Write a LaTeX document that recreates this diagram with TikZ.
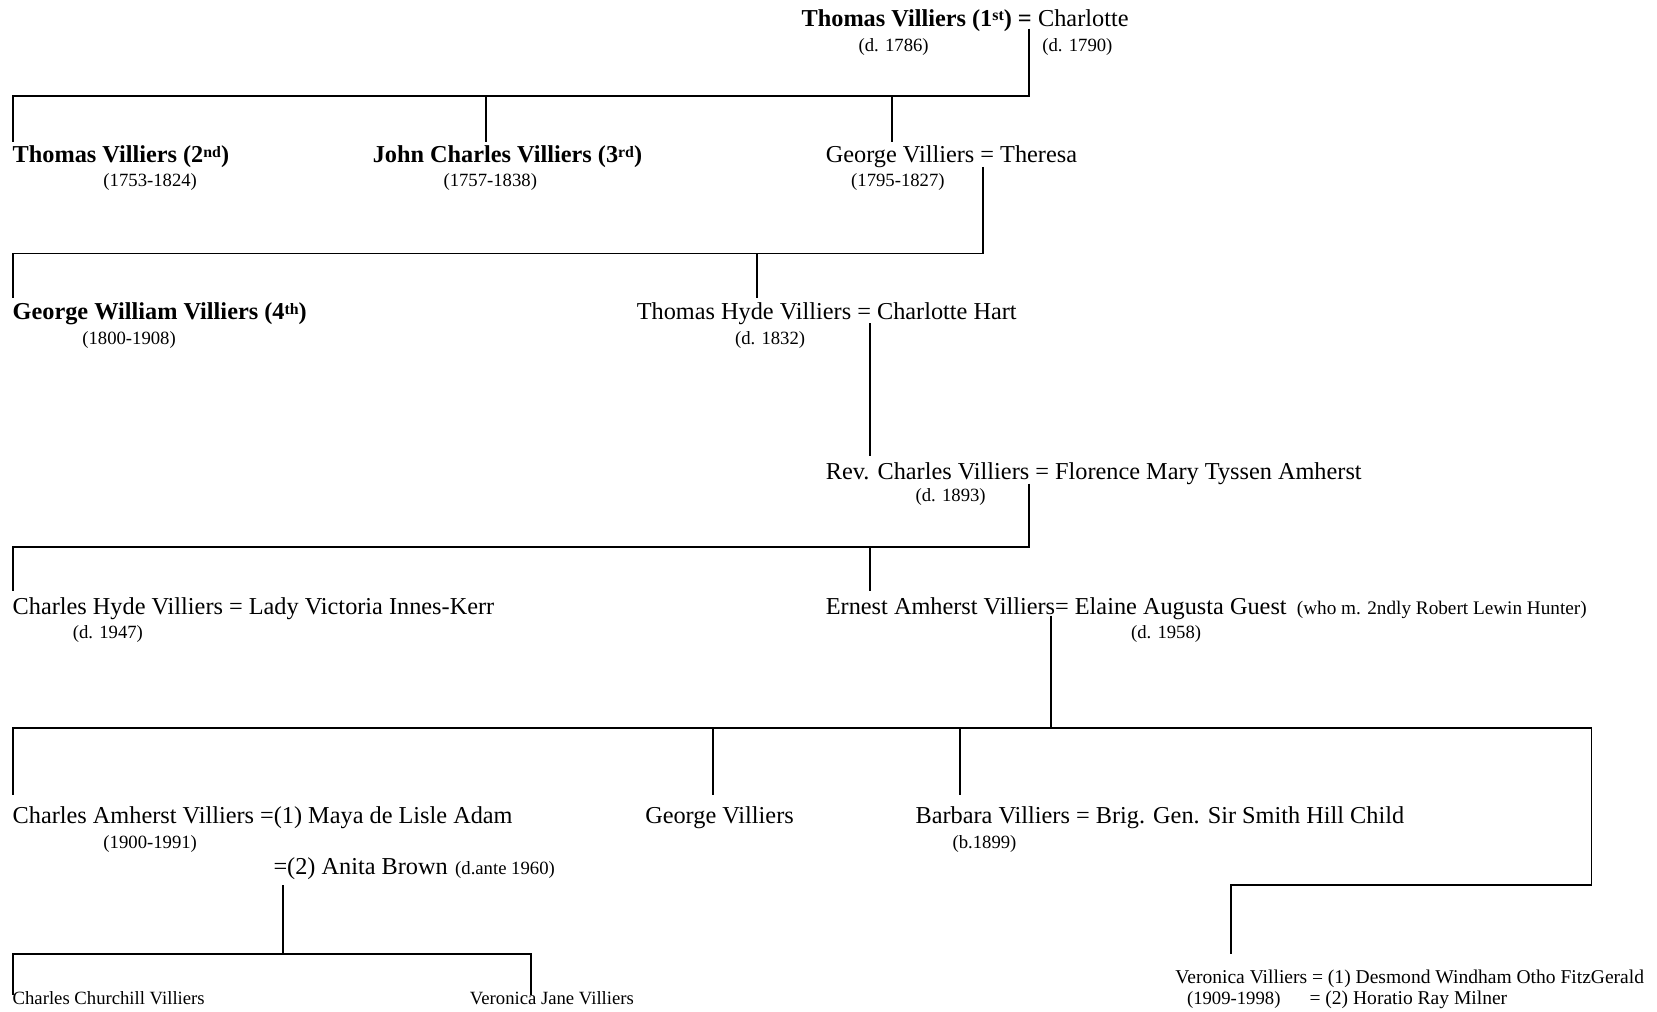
\documentclass[tikz,border=0pt]{standalone}
\usepackage{fontspec}
\setmainfont{Liberation Serif}
\newcommand\supx[1]{\raisebox{0.5ex}{\fontsize{7.5}{8}\selectfont #1}}
\begin{document}
\begin{tikzpicture}[x=0.5pt,y=-0.5pt,
  txt/.style={anchor=base west,inner sep=0pt,outer sep=0pt,font=\fontsize{11.5}{13}\selectfont},
  bld/.style={txt,font=\fontsize{11.5}{13}\selectfont\bfseries},
  sml/.style={anchor=base west,inner sep=0pt,outer sep=0pt,font=\fontsize{8.85}{10}\selectfont},
  smlw/.style={sml,font=\fontsize{9.25}{10}\selectfont},
  link/.style={draw=black,line width=0.9pt}]
\useasboundingbox (0,0) rectangle (1569,958);
% Row 0
\node[bld,anchor=base east] (tv1) at (977,25) {Thomas Villiers (1\supx{st}) =};
\node[txt] (ch1) at (983,25) {Charlotte};
\node[sml] (tv1d) at (813,49) {(d. 1786)};
\node[sml] (ch1d) at (987,49) {(d. 1790)};
% Row 1
\node[bld] (tv2) at (12,154) {Thomas Villiers (2\supx{nd})};
\node[sml] (tv2d) at (98,177) {(1753-1824)};
\node[bld] (jcv) at (353,154) {John Charles Villiers (3\supx{rd})};
\node[sml] (jcvd) at (420,177) {(1757-1838)};
\node[txt] (gv) at (782,154) {George Villiers = Theresa};
\node[sml] (gvd) at (806,177) {(1795-1827)};
% Row 2
\node[bld] (gwv) at (12,303) {George William Villiers (4\supx{th})};
\node[sml] (gwvd) at (78,326) {(1800-1908)};
\node[txt] (thv) at (603,303) {Thomas Hyde Villiers = Charlotte Hart};
\node[sml] (thvd) at (696,326) {(d. 1832)};
% Row 3
\node[txt] (rcv) at (782,454) {Rev. Charles Villiers = Florence Mary Tyssen Amherst};
\node[sml] (rcvd) at (867,475) {(d. 1893)};
% Row 4
\node[txt] (chv) at (12,582) {Charles Hyde Villiers = Lady Victoria Innes-Kerr};
\node[sml] (chvd) at (69,605) {(d. 1947)};
\node[txt] (eav) at (782,582) {Ernest Amherst Villiers= Elaine Augusta Guest};
\node[sml,font=\fontsize{9.1}{10}\selectfont] (eavn) at (1228,582) {(who m. 2ndly Robert Lewin Hunter)};
\node[sml] (eavd) at (1071,605) {(d. 1958)};
% Row 5
\node[txt] (cav) at (12,780) {Charles Amherst Villiers =(1) Maya de Lisle Adam};
\node[sml] (cavd) at (98,803) {(1900-1991)};
\node[txt] (cav2) at (259,828) {=(2) Anita Brown};
\node[sml] (cav2d) at (431,828) {(d.ante 1960)};
\node[txt] (gv2) at (611,780) {George Villiers};
\node[txt] (bv) at (867,780) {Barbara Villiers = Brig. Gen. Sir Smith Hill Child};
\node[sml] (bvd) at (902,803) {(b.1899)};
% Row 6
\node[sml] (ccv) at (12,951) {Charles Churchill Villiers};
\node[sml] (vjv) at (445,951) {Veronica Jane Villiers};
\node[smlw] (vv) at (1113,931) {Veronica Villiers = (1) Desmond Windham Otho FitzGerald};
\node[sml] (vvd) at (1124,951) {(1909-1998)};
\node[smlw] (vv2) at (1240,951) {= (2) Horatio Ray Milner};
% coordinates
\coordinate (m1) at (974,27);
\coordinate (b1) at (974,91);
\coordinate (k11) at (12,134);
\coordinate (k12) at (460,134);
\coordinate (k13) at (845,134);
\coordinate (m2) at (931,158);
\coordinate (b2) at (931,240);
\coordinate (k21) at (12,282);
\coordinate (k22) at (717,282);
\coordinate (m3) at (824,306);
\coordinate (k31) at (824,432);
\coordinate (m4) at (974,458);
\coordinate (b4) at (974,518);
\coordinate (k41) at (12,560);
\coordinate (k42) at (824,560);
\coordinate (m5) at (995,583);
\coordinate (b5) at (995,689);
\coordinate (k51) at (12,753);
\coordinate (k52) at (675,753);
\coordinate (k53) at (909,753);
\coordinate (r5) at (1507,838);
\coordinate (k54) at (1166,903);
\coordinate (m6) at (268,838);
\coordinate (b6) at (268,903);
\coordinate (k61) at (12,942);
\coordinate (k62) at (503,942);
% connectors
\draw[link] (m1) -- (b1) -| (k11);
\draw[link] (b1) -| (k12);
\draw[link] (b1) -| (k13);
\draw[link] (m2) -- (b2) -| (k21);
\draw[link] (b2) -| (k22);
\draw[link] (m3) -- (k31);
\draw[link] (m4) -- (b4) -| (k41);
\draw[link] (b4) -| (k42);
\draw[link] (m5) -- (b5) -| (k51);
\draw[link] (b5) -| (k52);
\draw[link] (b5) -| (k53);
\draw[link] (b5) -| (r5) -| (k54);
\draw[link] (m6) -- (b6) -| (k61);
\draw[link] (b6) -| (k62);
\end{tikzpicture}
\end{document}
